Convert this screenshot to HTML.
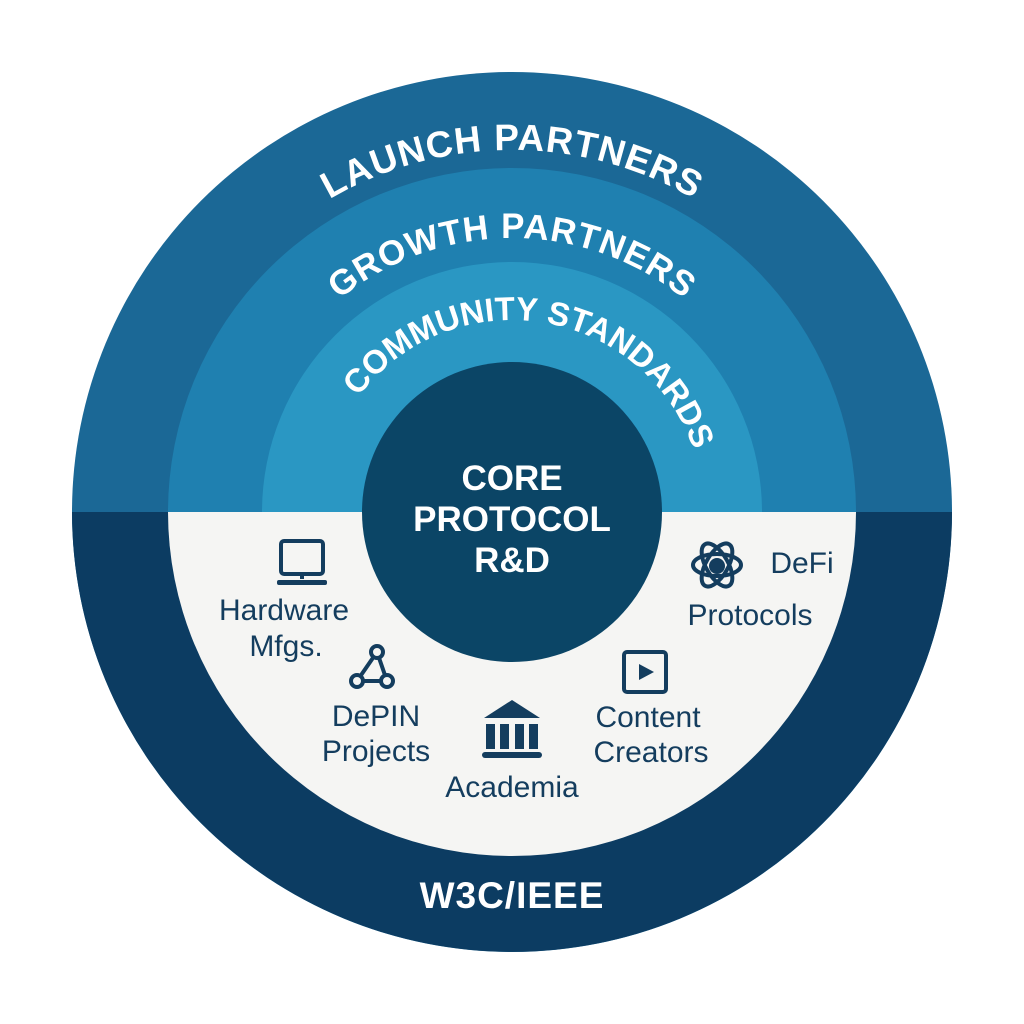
<!DOCTYPE html>
<html><head><meta charset="utf-8"><style>
html,body{margin:0;padding:0;background:#fff;width:1024px;height:1024px;overflow:hidden}
svg{display:block}
.cap{font-family:"Liberation Sans",sans-serif;font-weight:bold;fill:#fff}
.lbl{font-family:"Liberation Sans",sans-serif;fill:#143d5e;font-size:30px}
</style></head><body>
<svg width="1024" height="1024" viewBox="0 0 1024 1024">
<defs>
<path id="a1" d="M150,512 A362,362 0 0 1 874,512"/>
<path id="a2" d="M238,512 A274,274 0 0 1 786,512"/>
<path id="a3" d="M320,512 A192,192 0 0 1 704,512"/>
</defs>
<circle cx="512" cy="512" r="440" fill="#1b6896"/>
<path d="M72,512 A440,440 0 0 0 952,512 Z" fill="#0c3c62"/>
<path d="M168,512 A344,344 0 0 1 856,512 Z" fill="#1f80b0"/>
<path d="M168,512 A344,344 0 0 0 856,512 Z" fill="#f5f5f3"/>
<path d="M262,512 A250,250 0 0 1 762,512 Z" fill="#2a97c3"/>
<circle cx="512" cy="512" r="150" fill="#0b4566"/>
<text class="cap" font-size="37" letter-spacing="1"><textPath href="#a1" startOffset="50%" text-anchor="middle">LAUNCH PARTNERS</textPath></text>
<text class="cap" font-size="35" letter-spacing="1"><textPath href="#a2" startOffset="50%" text-anchor="middle">GROWTH PARTNERS</textPath></text>
<text class="cap" font-size="33" letter-spacing="0"><textPath href="#a3" startOffset="55%" text-anchor="middle">COMMUNITY STANDARDS</textPath></text>
<text class="cap" font-size="35" text-anchor="middle" x="512" y="490">CORE</text>
<text class="cap" font-size="35" text-anchor="middle" x="512" y="531">PROTOCOL</text>
<text class="cap" font-size="35" text-anchor="middle" x="512" y="572">R&amp;D</text>
<text class="cap" font-size="37" text-anchor="middle" x="512" y="908" letter-spacing="1">W3C/IEEE</text>
<g fill="none" stroke="#143d5e" stroke-width="4">
<rect x="281" y="541" width="42" height="33" rx="3"/>
</g>
<rect x="300" y="574" width="4" height="5" fill="#143d5e"/>
<rect x="277" y="580" width="50" height="5" rx="2" fill="#143d5e"/>
<text class="lbl" x="284" y="620" text-anchor="middle">Hardware</text>
<text class="lbl" x="286" y="656" text-anchor="middle">Mfgs.</text>
<g fill="#f5f5f3" stroke="#143d5e" stroke-width="4">
<path d="M377,652 L357,681 L387,681 Z"/>
<circle cx="377" cy="652" r="6"/><circle cx="357" cy="681" r="6"/><circle cx="387" cy="681" r="6"/>
</g>
<text class="lbl" x="376" y="726" text-anchor="middle">DePIN</text>
<text class="lbl" x="376" y="761" text-anchor="middle">Projects</text>
<g fill="#143d5e">
<path d="M512,700 L540,718 L484,718 Z"/>
<rect x="486" y="724" width="9" height="25"/><rect x="500" y="724" width="9" height="25"/><rect x="515" y="724" width="9" height="25"/><rect x="529" y="724" width="9" height="25"/>
<rect x="482" y="752" width="60" height="6" rx="3"/>
</g>
<text class="lbl" x="512" y="797" text-anchor="middle">Academia</text>
<rect x="624" y="652" width="42" height="40" rx="3" fill="none" stroke="#143d5e" stroke-width="4"/>
<path d="M639,664 L654,672 L639,680 Z" fill="#143d5e"/>
<text class="lbl" x="648" y="727" text-anchor="middle">Content</text>
<text class="lbl" x="651" y="762" text-anchor="middle">Creators</text>
<g fill="none" stroke="#143d5e" stroke-width="4">
<ellipse cx="717" cy="565" rx="24" ry="11"/>
<ellipse cx="717" cy="565" rx="24" ry="11" transform="rotate(60 717 565)"/>
<ellipse cx="717" cy="565" rx="24" ry="11" transform="rotate(-60 717 565)"/>
</g>
<circle cx="717" cy="566" r="8" fill="#143d5e"/>
<text class="lbl" x="802" y="573" text-anchor="middle">DeFi</text>
<text class="lbl" x="750" y="625" text-anchor="middle">Protocols</text>
</svg>
</body></html>
